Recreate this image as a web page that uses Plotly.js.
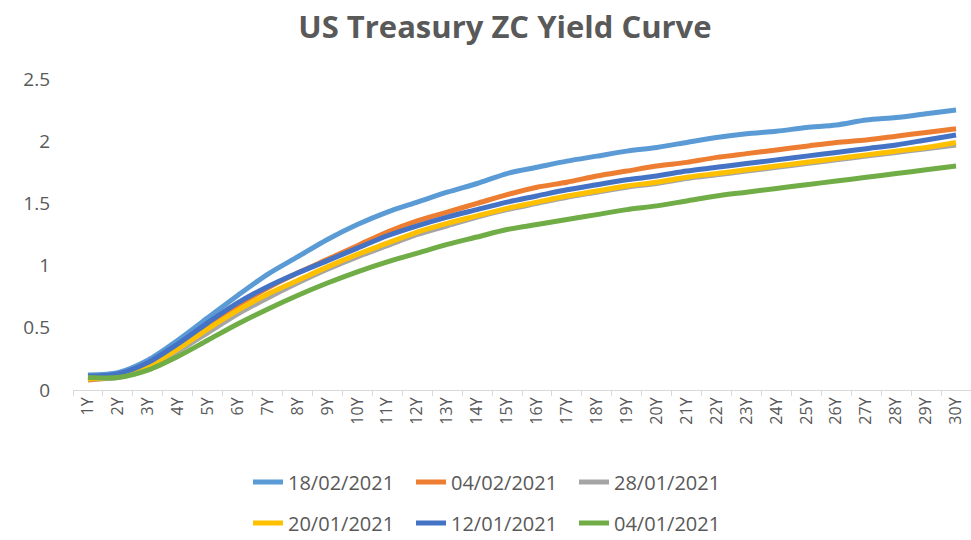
<!DOCTYPE html>
<html>
<head>
<meta charset="utf-8">
<script src="https://cdn.plot.ly/plotly-3.0.1.min.js"></script>
<style>html,body{margin:0;padding:0;background:#fff;}#chart{width:971px;height:540px;}</style>
</head>
<body>
<div id="chart"></div>
<script>
const tenors = ["1Y","2Y","3Y","4Y","5Y","6Y","7Y","8Y","9Y","10Y","11Y","12Y","13Y","14Y","15Y","16Y","17Y","18Y","19Y","20Y","21Y","22Y","23Y","24Y","25Y","26Y","27Y","28Y","29Y","30Y"];

const y_18_02_2021 = [0.12,0.14,0.24,0.40,0.58,0.76,0.93,1.07,1.21,1.33,1.43,1.51,1.59,1.66,1.74,1.79,1.84,1.88,1.92,1.95,1.99,2.03,2.06,2.08,2.11,2.13,2.17,2.19,2.22,2.25];
const y_04_02_2021 = [0.08,0.11,0.20,0.35,0.52,0.68,0.82,0.94,1.05,1.16,1.27,1.36,1.43,1.50,1.57,1.63,1.67,1.72,1.76,1.80,1.83,1.87,1.90,1.93,1.96,1.99,2.01,2.04,2.07,2.10];
const y_28_01_2021 = [0.09,0.10,0.18,0.31,0.46,0.61,0.74,0.86,0.97,1.07,1.16,1.25,1.32,1.39,1.45,1.50,1.55,1.59,1.63,1.66,1.70,1.73,1.76,1.79,1.82,1.85,1.88,1.91,1.94,1.97];
const y_20_01_2021 = [0.09,0.11,0.19,0.33,0.49,0.64,0.77,0.88,0.99,1.09,1.18,1.27,1.34,1.40,1.46,1.51,1.56,1.60,1.64,1.67,1.71,1.74,1.77,1.80,1.83,1.86,1.89,1.92,1.95,1.99];
const y_12_01_2021 = [0.11,0.13,0.22,0.37,0.54,0.70,0.83,0.94,1.04,1.14,1.24,1.32,1.39,1.45,1.51,1.56,1.61,1.65,1.69,1.72,1.76,1.79,1.82,1.85,1.88,1.91,1.94,1.97,2.01,2.05];
const y_04_01_2021 = [0.10,0.10,0.16,0.27,0.40,0.53,0.65,0.76,0.86,0.95,1.03,1.10,1.17,1.23,1.29,1.33,1.37,1.41,1.45,1.48,1.52,1.56,1.59,1.62,1.65,1.68,1.71,1.74,1.77,1.80];

const seriesNames = ["18/02/2021","04/02/2021","28/01/2021","20/01/2021","12/01/2021","04/01/2021"];
const seriesValues = [y_18_02_2021,y_04_02_2021,y_28_01_2021,y_20_01_2021,y_12_01_2021,y_04_01_2021];
const seriesColors = ["#5B9BD5","#ED7D31","#A5A5A5","#FFC000","#4472C4","#70AD47"];

const traces = seriesNames.map((n,i)=>({
  type:"scatter", mode:"lines", name:n, x:tenors, y:seriesValues[i],
  line:{color:seriesColors[i], width:5, shape:"spline", smoothing:0.8},
  legend: i<3 ? "legend" : "legend2",
  hoverinfo:"x+y+name"
}));

const txt = "#595959";
const legendCommon = {orientation:"h", xref:"container", yref:"container", x:0.2554, xanchor:"left", yanchor:"middle",
          font:{size:20, color:txt}, entrywidth:118, entrywidthmode:"pixels", bgcolor:"rgba(0,0,0,0)"};
const layout = {
  width:971, height:540,
  margin:{l:73, r:0, t:79, b:150},
  paper_bgcolor:"#fff", plot_bgcolor:"#fff",
  font:{family:"Open Sans, sans-serif", color:txt},
  title:{text:"<b>US Treasury ZC Yield Curve</b>", font:{family:"Open Sans, sans-serif", size:31, color:txt},
         x:0.52, xanchor:"center", y:0.95, yanchor:"middle", yref:"container"},
  xaxis:{type:"category", range:[-0.5,29.5], showgrid:false, zeroline:false,
         showline:true, linecolor:"#D9D9D9", linewidth:1,
         ticks:"outside", tickson:"boundaries", ticklen:5, tickcolor:"#D9D9D9",
         tickangle:-90, tickfont:{size:16, color:txt}},
  yaxis:{range:[0,2.5], tickvals:[0,0.5,1,1.5,2,2.5], ticktext:["0","0.5","1","1.5","2","2.5"],
         showgrid:false, zeroline:false, showline:false, ticks:"",
         ticklabelstandoff:22, tickfont:{size:19, color:txt}},
  legend:Object.assign({}, legendCommon, {y:1-482/540}),
  legend2:Object.assign({}, legendCommon, {y:1-523/540}),
  showlegend:true
};

Plotly.newPlot("chart", traces, layout, {displayModeBar:false, staticPlot:true});
</script>
</body>
</html>
